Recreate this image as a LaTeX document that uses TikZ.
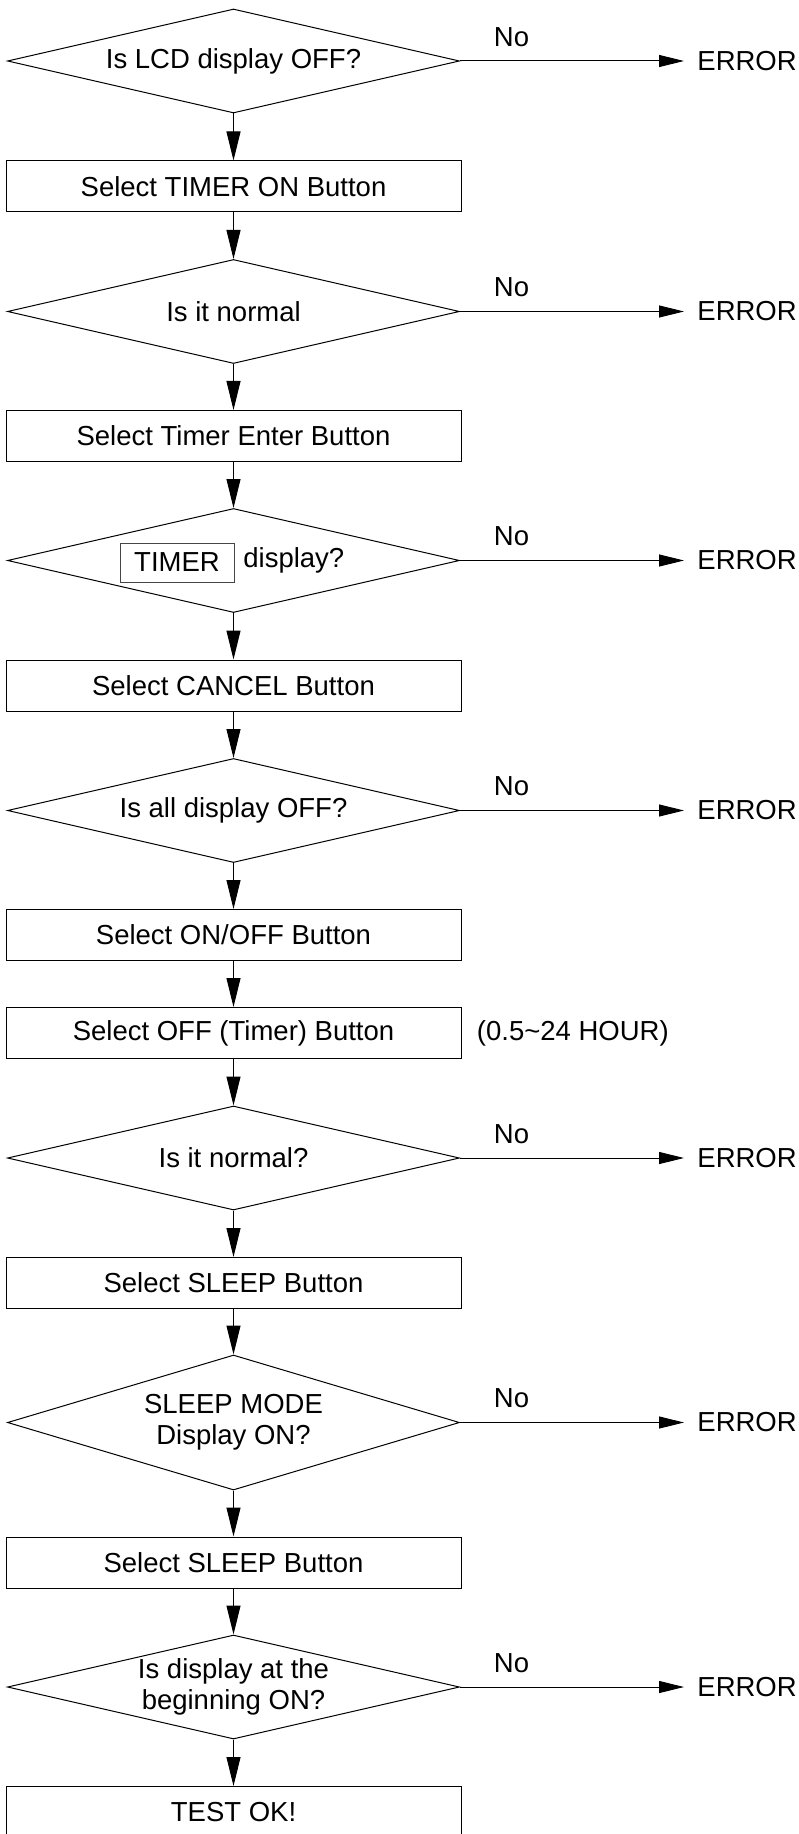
\documentclass[tikz,border=0pt]{standalone}
\usepackage{fontspec}
\setmainfont{Liberation Sans}
\usepackage{tikz}
\usetikzlibrary{shapes.geometric, arrows.meta, positioning}
\definecolor{mydark}{RGB}{0,0,0}
\definecolor{myframe}{RGB}{70,70,70}
\newcommand{\chartfont}{\fontsize{13.75pt}{15.5pt}\selectfont}
\tikzset{
  stepbox/.style={rectangle, draw=mydark, minimum width=227.5pt,
    minimum height=25.5pt, inner sep=0pt, font=\chartfont, line width=0.5pt},
  decision/.style={diamond, draw=mydark, minimum width=226pt,
    minimum height=52pt, aspect=4.35, inner sep=0pt, align=center,
    font=\chartfont, line width=0.5pt},
  tagbox/.style={rectangle, draw=myframe, minimum width=57pt,
    minimum height=19.5pt, inner sep=0pt, font=\chartfont, line width=0.5pt},
  errnode/.style={anchor=west, inner xsep=6.5pt, inner ysep=0pt, font=\chartfont},
  nolabel/.style={pos=0.23, above=7pt, inner sep=0pt, font=\chartfont},
  note/.style={inner sep=0pt, font=\chartfont},
  arrow/.style={-{Triangle[length=14.5pt,width=7pt]}, line width=0.5pt, color=mydark},
  sidearrow/.style={-{Triangle[length=12.5pt,width=6pt]}, line width=0.5pt, color=mydark}
}

\begin{document}
\begin{tikzpicture}[x=0.5pt, y=-0.5pt]
  \useasboundingbox (0,0) rectangle (798,1834);

  % Main column
  \node[decision] (d1) at (233.5,61) {Is LCD display OFF?};
  \node[stepbox] (b1) at (233.5,186.5) {Select TIMER ON Button};
  \node[decision] (d2) at (233.5,311.5) {Is it normal};
  \node[stepbox] (b2) at (233.5,436) {Select Timer Enter Button};
  \node[decision] (d3) at (233.5,560.5) {};
  \node[stepbox] (b3) at (233.5,685.5) {Select CANCEL Button};
  \node[decision] (d4) at (233.5,810.5) {Is all display OFF?};
  \node[stepbox] (b4) at (233.5,935) {Select ON/OFF Button};
  \node[stepbox] (b5) at (233.5,1033) {Select OFF (Timer) Button};
  \node[decision] (d5) at (233.5,1158) {Is it normal?};
  \node[stepbox] (b6) at (233.5,1283) {Select SLEEP Button};
  \node[decision, minimum height=67.5pt, aspect=3.35] (d6) at (233.5,1422.5) {SLEEP MODE\\Display ON?};
  \node[stepbox] (b7) at (233.5,1562.5) {Select SLEEP Button};
  \node[decision] (d7) at (233.5,1687) {Is display at the\\beginning ON?};
  \node[stepbox] (b8) at (233.5,1812) {TEST OK!};

  % Framed TIMER tag inside the third decision
  \node[tagbox] (timertag) at (177,562.5) {TIMER};
  \node[note, anchor=west] (d3text) at (243,560.5) {display?};

  % Hour range beside the OFF timer step
  \node[note, right=7.5pt of b5] (hours) {(0.5\textasciitilde 24 HOUR)};

  % Error exits
  \node[errnode] (e1) at (684,61) {ERROR};
  \node[errnode] (e2) at (684,311.5) {ERROR};
  \node[errnode] (e3) at (684,560.5) {ERROR};
  \node[errnode] (e4) at (684,810.5) {ERROR};
  \node[errnode] (e5) at (684,1158) {ERROR};
  \node[errnode] (e6) at (684,1422.5) {ERROR};
  \node[errnode] (e7) at (684,1687) {ERROR};

  % Flow arrows
  \draw[arrow] (d1) -- (b1);
  \draw[arrow] (b1) -- (d2);
  \draw[arrow] (d2) -- (b2);
  \draw[arrow] (b2) -- (d3);
  \draw[arrow] (d3) -- (b3);
  \draw[arrow] (b3) -- (d4);
  \draw[arrow] (d4) -- (b4);
  \draw[arrow] (b4) -- (b5);
  \draw[arrow] (b5) -- (d5);
  \draw[arrow] (d5) -- (b6);
  \draw[arrow] (b6) -- (d6);
  \draw[arrow] (d6) -- (b7);
  \draw[arrow] (b7) -- (d7);
  \draw[arrow] (d7) -- (b8);

  % No branches
  \draw[sidearrow] (d1.east) -- (e1.west) node[nolabel] (n1) {No};
  \draw[sidearrow] (d2.east) -- (e2.west) node[nolabel] (n2) {No};
  \draw[sidearrow] (d3.east) -- (e3.west) node[nolabel] (n3) {No};
  \draw[sidearrow] (d4.east) -- (e4.west) node[nolabel] (n4) {No};
  \draw[sidearrow] (d5.east) -- (e5.west) node[nolabel] (n5) {No};
  \draw[sidearrow] (d6.east) -- (e6.west) node[nolabel] (n6) {No};
  \draw[sidearrow] (d7.east) -- (e7.west) node[nolabel] (n7) {No};
\end{tikzpicture}
\end{document}
